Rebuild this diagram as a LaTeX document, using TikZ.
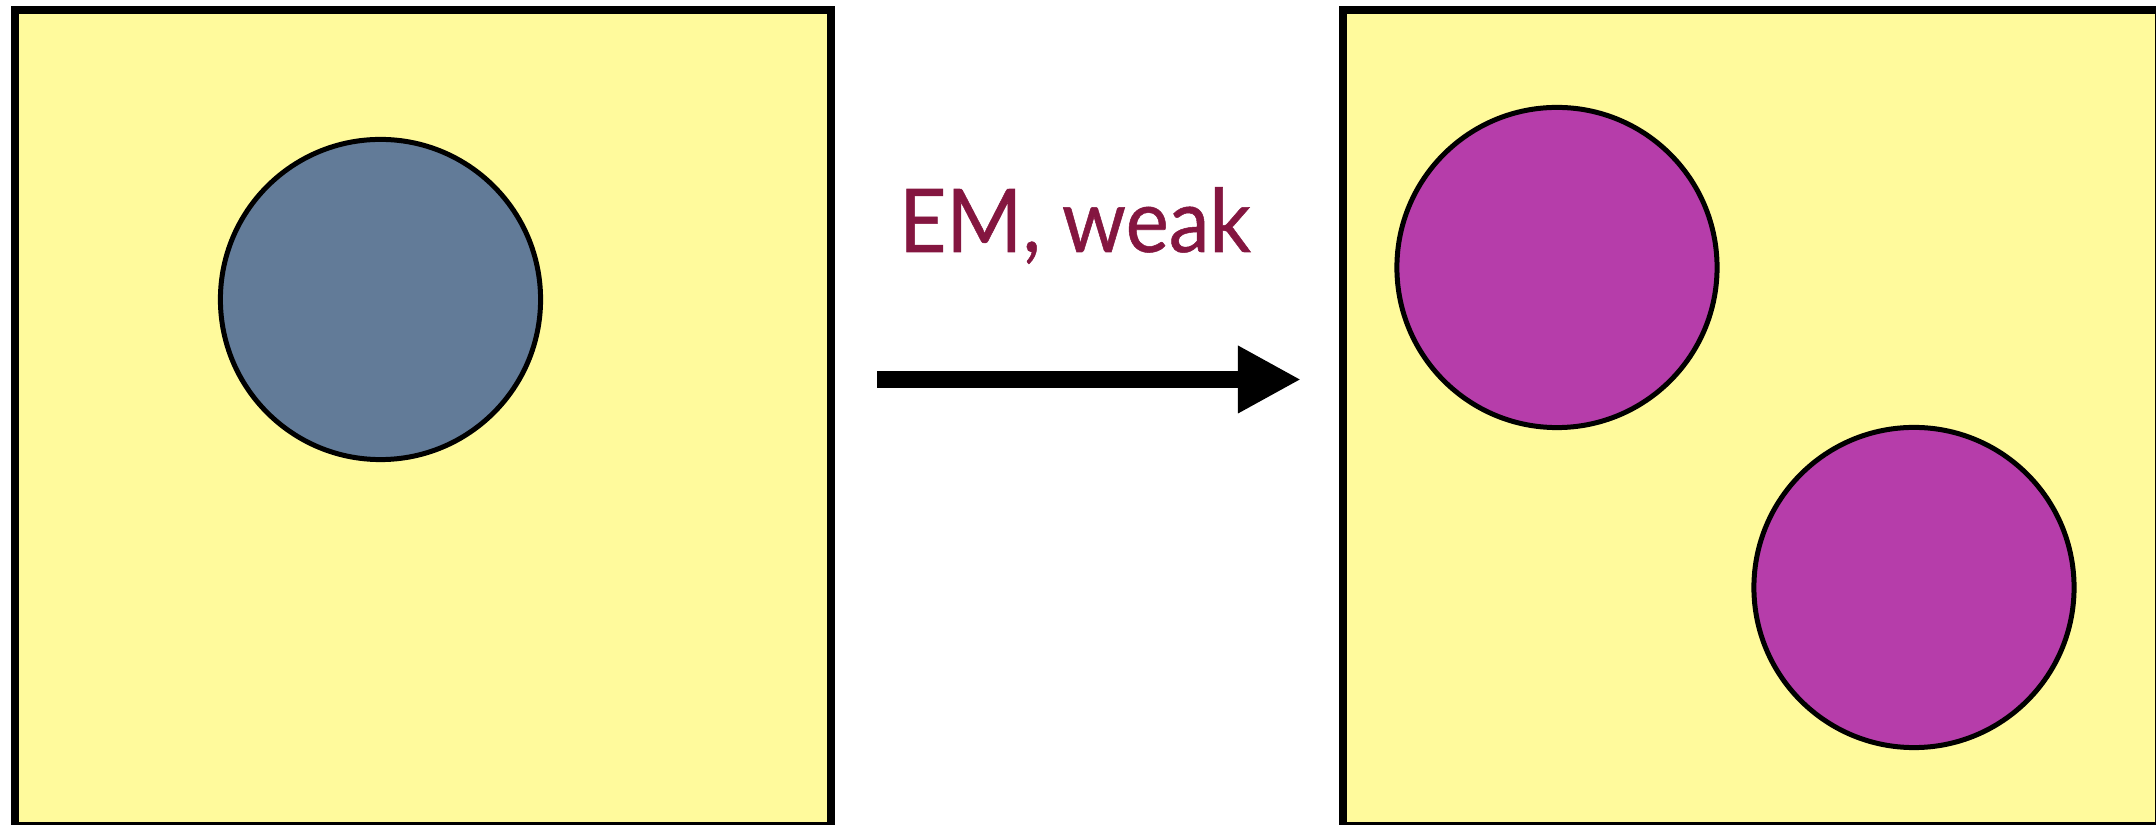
\documentclass[tikz,border=0pt]{standalone}
\usepackage{fontspec}
\setmainfont{Lato}
\usetikzlibrary{arrows.meta}
\definecolor{boxyellow}{HTML}{FFFA9C}
\definecolor{slateblue}{HTML}{627B98}
\definecolor{pmagenta}{HTML}{B63DAA}
\definecolor{maroontext}{HTML}{841640}
\tikzset{
  panel/.style={draw=black, fill=boxyellow, line width=2.28pt, inner sep=0pt, minimum size=8.16cm},
  ball/.style={circle, draw=black, line width=1.42pt, inner sep=0pt, minimum size=3.2cm},
  label/.style={text=maroontext, font=\fontsize{25}{30}\selectfont, anchor=base, inner sep=0pt},
  bigarrow/.style={line width=0.17cm, -{Triangle[length=0.63cm, width=0.63cm]}}
}
\begin{document}
\begin{tikzpicture}[x=0.01cm, y=-0.01cm]
\useasboundingbox (0,0) rectangle (2156,825);
\node[panel] (left) at (423,418) {};
\node[panel] (right) at (1751,418) {};
\node[ball, fill=slateblue] (n) at (380.5,299.5) {};
\node[ball, fill=pmagenta] (p1) at (1557,267.5) {};
\node[ball, fill=pmagenta] (p2) at (1914,587.5) {};
\node[label] (t) at (1075,252) {\scalebox{0.93}[1]{\fontspec{Lato}[FakeBold=0.6]EM, weak}};
\coordinate (a0) at (877,379.5);
\coordinate (a1) at (1301,379.5);
\draw[bigarrow] (a0) -- (a1);
\end{tikzpicture}
\end{document}
